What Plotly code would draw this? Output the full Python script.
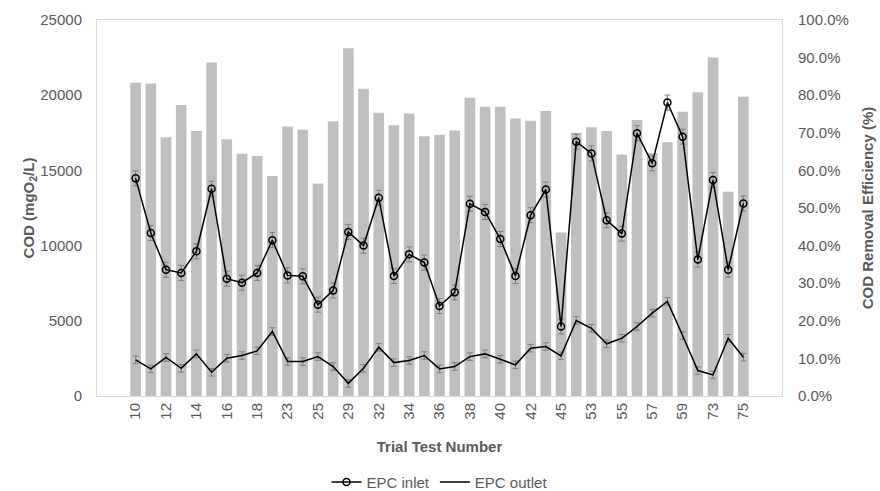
import plotly.graph_objects as go

# Trial test numbers (every other one is labelled on the axis)
trials = ["10", "11", "12", "13", "14", "15", "16", "17", "18", "19",
          "23", "24", "25", "27", "29", "30", "32", "33", "34", "35",
          "36", "37", "38", "39", "40", "41", "42", "43", "45", "52",
          "53", "54", "55", "56", "57", "58", "59", "60", "73", "74", "75"]

# COD removal efficiency (fraction)
removal_eff = [0.833, 0.831, 0.688, 0.774, 0.705, 0.887, 0.683, 0.644, 0.638, 0.585,
               0.717, 0.708, 0.565, 0.731, 0.925, 0.817, 0.753, 0.720, 0.751, 0.691,
               0.695, 0.706, 0.793, 0.769, 0.769, 0.738, 0.732, 0.758, 0.435, 0.700,
               0.715, 0.705, 0.642, 0.734, 0.646, 0.675, 0.756, 0.808, 0.900, 0.543, 0.796]

# COD at EPC inlet (mgO2/L)
cod_inlet = [14470, 10840, 8400, 8180, 9620, 13780, 7800, 7530, 8180, 10360,
             8020, 7960, 6070, 7020, 10910, 10000, 13180, 7980, 9420, 8870,
             5980, 6890, 12780, 12240, 10440, 7980, 12020, 13730, 4620, 16910,
             16130, 11690, 10800, 17470, 15470, 19510, 17240, 9070, 14360, 8400, 12800]

# COD at EPC outlet (mgO2/L)
cod_outlet = [2400, 1800, 2560, 1840, 2800, 1580, 2510, 2690, 3000, 4290,
              2290, 2290, 2620, 1960, 840, 1840, 3240, 2220, 2360, 2690,
              1800, 1960, 2620, 2800, 2440, 2070, 3180, 3290, 2670, 5020,
              4500, 3470, 3840, 4620, 5510, 6290, 4020, 1690, 1400, 3840, 2580]

inlet_err = 500
outlet_err = 250

tick_labels = trials[::2]

grey_text = "#595959"
font_family = "Liberation Sans, Arial, sans-serif"

fig = go.Figure()

fig.add_trace(go.Bar(
    x=trials, y=removal_eff, yaxis="y",
    marker=dict(color="#bfbfbf", line=dict(width=0)),
    showlegend=False, name="COD Removal Efficiency",
))

fig.add_trace(go.Scatter(
    x=trials, y=cod_inlet, yaxis="y2", name="EPC inlet",
    mode="lines+markers",
    line=dict(color="black", width=1.5),
    marker=dict(symbol="circle-open", size=7, color="black", line=dict(width=1.5)),
    error_y=dict(type="constant", value=inlet_err, color="#7f7f7f", thickness=1, width=3),
))

fig.add_trace(go.Scatter(
    x=trials, y=cod_outlet, yaxis="y2", name="EPC outlet",
    mode="lines",
    line=dict(color="black", width=1.5),
    error_y=dict(type="constant", value=outlet_err, color="#7f7f7f", thickness=1, width=3),
))

fig.update_layout(
    width=880, height=491,
    margin=dict(l=97, r=98, t=20, b=95, autoexpand=False),
    paper_bgcolor="white", plot_bgcolor="white",
    font=dict(family=font_family, size=15, color=grey_text),
    bargap=0.3,
    xaxis=dict(
        type="category", automargin=False,
        tickmode="array", tickvals=tick_labels, ticktext=tick_labels,
        tickangle=-90, ticks="", showgrid=False,
        showline=True, linecolor="#d9d9d9", linewidth=1, mirror=True,
        tickfont=dict(size=15, color=grey_text),
        title=dict(text="<b>Trial Test Number</b>", font=dict(size=15, color=grey_text), standoff=22),
    ),
    yaxis=dict(
        side="right", range=[0, 1], dtick=0.1, tickformat=".1%", automargin=False,
        showgrid=False, zeroline=False, showline=True, linecolor="#d9d9d9", mirror=True,
        ticks="", ticklen=0, ticklabelstandoff=12,
        tickfont=dict(size=15, color=grey_text),
        title=dict(text="<b>COD Removal Efficiency (%)</b>", font=dict(size=15, color=grey_text), standoff=14),
    ),
    yaxis2=dict(
        side="left", overlaying="y", range=[0, 25000], dtick=5000, tickformat="d",
        automargin=False,
        showgrid=False, zeroline=False, showline=False,
        ticks="", ticklen=0, ticklabelstandoff=14,
        tickfont=dict(size=15, color=grey_text),
        title=dict(text="<b>COD (mgO<sub>2</sub>/L)</b>", font=dict(size=15, color=grey_text), standoff=2),
    ),
    legend=dict(orientation="h", x=0.5, xanchor="center", xref="paper",
                y=0.018, yanchor="middle", yref="container",
                font=dict(size=15, color=grey_text)),
)

fig.write_html("out.html")
